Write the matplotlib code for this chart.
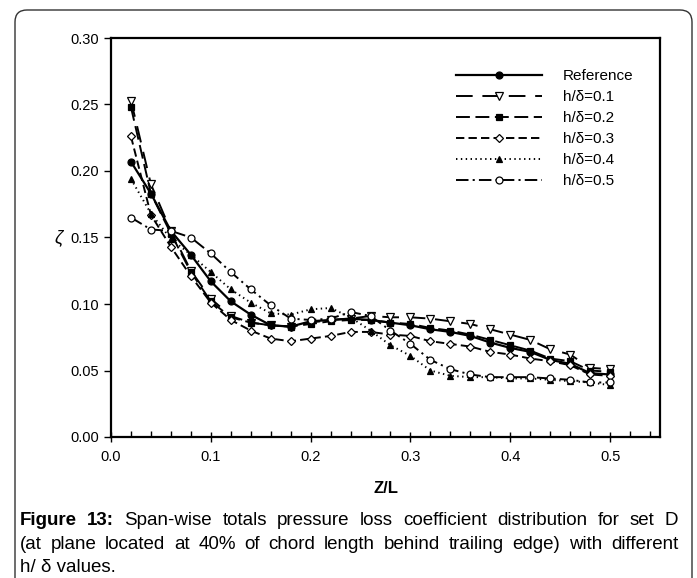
import matplotlib
matplotlib.use('Agg')
import matplotlib.pyplot as plt
from matplotlib.patches import FancyBboxPatch
from matplotlib.transforms import IdentityTransform
from matplotlib.ticker import MultipleLocator, FormatStrFormatter
from matplotlib import font_manager

plt.rcParams['font.family'] = ['Liberation Sans', 'DejaVu Sans']
plt.rcParams['lines.scale_dashes'] = False

# ---- data
z = [0.02, 0.04, 0.06, 0.08, 0.10, 0.12, 0.14, 0.16, 0.18, 0.20, 0.22, 0.24, 0.26,
     0.28, 0.30, 0.32, 0.34, 0.36, 0.38, 0.40, 0.42, 0.44, 0.46, 0.48, 0.50]
ref = [0.207, 0.183, 0.155, 0.137, 0.117, 0.102, 0.092, 0.084, 0.083, 0.087, 0.088, 0.089, 0.088,
       0.086, 0.084, 0.081, 0.079, 0.076, 0.071, 0.067, 0.064, 0.058, 0.055, 0.048, 0.047]
h01 = [0.253, 0.190, 0.155, 0.125, 0.104, 0.091, 0.086, 0.084, 0.083, 0.086, 0.088, 0.089, 0.091,
       0.090, 0.090, 0.089, 0.087, 0.085, 0.081, 0.077, 0.073, 0.066, 0.062, 0.052, 0.051]
h02 = [0.248, 0.183, 0.153, 0.124, 0.102, 0.090, 0.086, 0.084, 0.083, 0.085, 0.087, 0.088, 0.088,
       0.086, 0.085, 0.082, 0.080, 0.077, 0.073, 0.069, 0.065, 0.059, 0.057, 0.050, 0.049]
h03 = [0.226, 0.167, 0.143, 0.121, 0.101, 0.088, 0.080, 0.074, 0.072, 0.074, 0.076, 0.079, 0.079,
       0.077, 0.076, 0.072, 0.070, 0.068, 0.064, 0.062, 0.059, 0.057, 0.054, 0.047, 0.046]
h04 = [0.194, 0.168, 0.149, 0.137, 0.124, 0.111, 0.101, 0.093, 0.092, 0.096, 0.097, 0.090, 0.080,
       0.069, 0.061, 0.050, 0.046, 0.045, 0.045, 0.044, 0.044, 0.043, 0.042, 0.041, 0.039]
h05 = [0.165, 0.156, 0.155, 0.150, 0.138, 0.124, 0.111, 0.099, 0.089, 0.088, 0.089, 0.094, 0.091,
       0.080, 0.070, 0.058, 0.051, 0.047, 0.045, 0.045, 0.045, 0.044, 0.043, 0.041, 0.041]

labels = ['Reference', 'h/δ=0.1', 'h/δ=0.2', 'h/δ=0.3', 'h/δ=0.4', 'h/δ=0.5']
series = [ref, h01, h02, h03, h04, h05]
styles = ['-', (0, (12, 7)), (0, (10, 4)), (0, (6, 3)), (0, (1, 2.5)), (0, (9, 3, 1.5, 3))]
markers = ['o', 'v', 's', 'D', '^', 'o']
filled = [True, False, True, False, True, False]
msizes = [5, 5.5, 4.5, 4.5, 5, 5]
widths_lw = [1.6, 1.4, 1.4, 1.4, 1.4, 1.4]

W, H = 697, 578
fig = plt.figure(figsize=(W / 100, H / 100), dpi=100)
ax = fig.add_axes([111 / W, 1 - 437 / H, 549 / W, 399 / H])

for y, lab, ls, mk, f, ms, lw in zip(series, labels, styles, markers, filled, msizes, widths_lw):
    ax.plot(z, y, color='black', linestyle=ls, lw=lw, marker=mk, ms=ms,
            mfc='black' if f else 'white', mec='black', mew=0.9, label=lab)

ax.set_xlim(0, 0.55)
ax.set_ylim(0, 0.30)
ax.xaxis.set_major_locator(MultipleLocator(0.1))
ax.xaxis.set_minor_locator(MultipleLocator(0.02))
ax.yaxis.set_major_locator(MultipleLocator(0.05))
ax.xaxis.set_major_formatter(FormatStrFormatter('%.1f'))
ax.yaxis.set_major_formatter(FormatStrFormatter('%.2f'))
ax.tick_params(axis='x', which='major', direction='inout', length=7, width=1, labelsize=10.5, pad=6)
ax.tick_params(axis='x', which='minor', direction='in', length=4, width=1)
ax.tick_params(axis='y', which='major', direction='out', length=5, width=1, labelsize=10.5)
for s in ax.spines.values():
    s.set_linewidth(1.6)

ax.set_xlabel('Z/L', fontsize=12, fontweight='bold', labelpad=12)
ax.set_ylabel('ζ', fontsize=13, style='italic', rotation=0, va='center')
ax.yaxis.set_label_coords(-0.095, 0.5)

ax.legend(loc='upper left', bbox_to_anchor=(0.615, 0.941), frameon=False, fontsize=11,
          handlelength=5.6, handletextpad=1.4, labelspacing=0.46, numpoints=1, borderpad=0)

# ---- caption, justified
names = {f.name for f in font_manager.fontManager.ttflist}
cap_font = 'Liberation Sans Narrow' if 'Liberation Sans Narrow' in names else 'Liberation Sans'
cap_size = 13.5 if cap_font == 'Liberation Sans' else 15
cap = ['Figure 13: Span-wise totals pressure loss coefficient distribution for set D',
       '(at plane located at 40% of chord length behind trailing edge) with different',
       'h/ δ values.']
cap_y = [525, 549, 572]
x0, x1 = 20, 678
renderer = fig.canvas.get_renderer()
for k, (line, yy) in enumerate(zip(cap, cap_y)):
    if k == 2:
        fig.text(x0 / W, 1 - yy / H, line, fontsize=cap_size, family=[cap_font, 'DejaVu Sans'])
        continue
    words = line.split()
    texts = []
    for i, w in enumerate(words):
        bold = (k == 0 and i < 2)
        texts.append(fig.text(0, 1 - yy / H, w, fontsize=cap_size,
                              fontweight='bold' if bold else 'normal',
                              family=[cap_font, 'DejaVu Sans']))
    widths = [t.get_window_extent(renderer).width for t in texts]
    gap = (x1 - x0 - sum(widths)) / (len(words) - 1)
    x = x0
    for t, wd in zip(texts, widths):
        t.set_x(x / W)
        x += wd + gap

# outer rounded frame (bottom cut off by the image edge)
box = FancyBboxPatch((15, -30), 677, H - 10 + 30, boxstyle='round,pad=0,rounding_size=12',
                     transform=IdentityTransform(), fill=False, lw=1.0, ec='#333333')
fig.add_artist(box)

fig.savefig('out.png', dpi=100)
